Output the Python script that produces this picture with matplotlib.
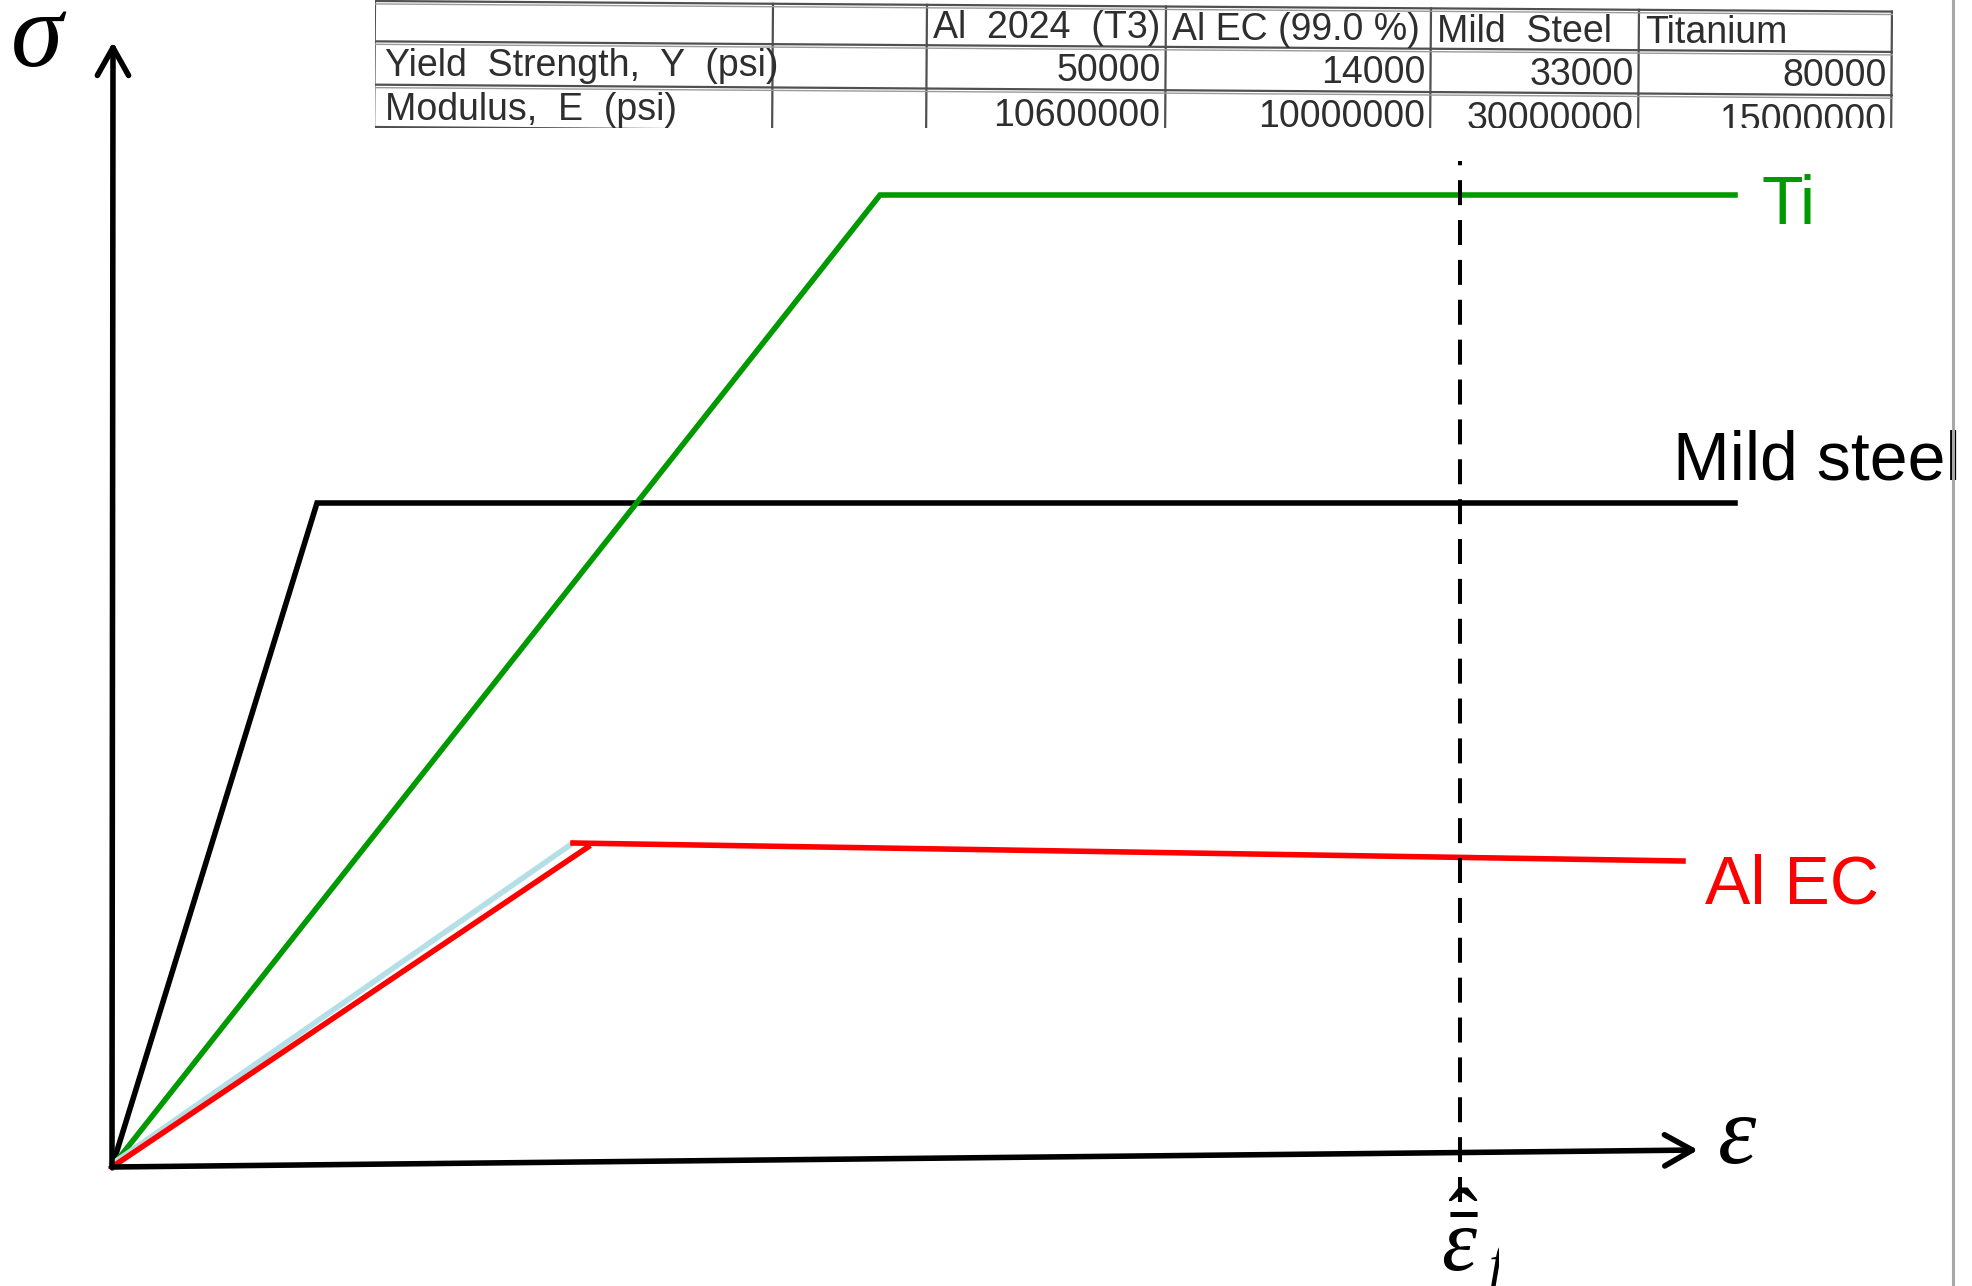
import matplotlib.pyplot as plt
from matplotlib.lines import Line2D
from matplotlib.transforms import Affine2D, Bbox, TransformedBbox

plt.rcParams['mathtext.fontset'] = 'custom'
plt.rcParams['mathtext.it'] = 'Liberation Serif:italic'
plt.rcParams['mathtext.rm'] = 'Liberation Serif'
plt.rcParams['mathtext.bf'] = 'Liberation Serif:bold'

# schematic stress-strain curves (arbitrary units)
ti_strain = [0.0, 7.68, 16.23]
ti_stress = [0.0, 9.72, 9.72]
steel_strain = [0.0, 2.05, 16.23]
steel_stress = [0.0, 6.64, 6.64]
alec_rise_strain = [0.0, 4.76]
alec_rise_stress = [0.0, 3.20]
alec_flat_strain = [4.61, 15.71]
alec_flat_stress = [3.24, 3.06]
alec_guide_strain = [0.0, 4.61]
alec_guide_stress = [0.03, 3.24]
eps_hat = 13.48

# material property table
materials = ["Al  2024  (T3)", "Al EC (99.0 %)", "Mild  Steel", "Titanium"]
row_labels = ["Yield  Strength,  Y  (psi)", "Modulus,  E  (psi)"]
yield_psi = [50000, 14000, 33000, 80000]
modulus_psi = [10600000, 10000000, 30000000, 15000000]

GREEN = '#009a00'
RED = '#ff0000'
LW = 4.0

fig = plt.figure(figsize=(19.72, 12.86), dpi=100)
ax = fig.add_axes([0, 0, 1, 1])
ax.set_xlim(-1.12, 18.60)
ax.set_ylim(-1.19, 11.67)
ax.axis('off')

# axes arrows
arrow = dict(arrowstyle='->,head_length=0.8,head_width=0.45', lw=LW,
             color='black', mutation_scale=25, shrinkA=0, shrinkB=0)
ax.annotate('', xy=(15.86, 0.17), xytext=(0, 0), arrowprops=arrow)
ax.annotate('', xy=(0.01, 11.25), xytext=(0, 0), arrowprops=arrow)

# curves
ax.plot(steel_strain, steel_stress, color='black', lw=LW, solid_joinstyle='miter')
ax.plot(ti_strain, ti_stress, color=GREEN, lw=LW, solid_joinstyle='miter')
ax.plot(alec_guide_strain, alec_guide_stress, color='#b4dfe6', lw=LW)
ax.plot(alec_rise_strain, alec_rise_stress, color=RED, lw=LW)
ax.plot(alec_flat_strain, alec_flat_stress, color=RED, lw=LW)

# fracture strain marker
ax.plot([eps_hat, eps_hat], [-0.35, 10.06], color='black', lw=2.9,
        dashes=(6.2, 3.7))

# curve labels
ax.text(16.50, 9.43, 'Ti', color=GREEN, fontsize=49,
        family='Liberation Sans', va='baseline')
ax.text(15.61, 6.87, 'Mild steel', color='black', fontsize=49,
        family='Liberation Sans', va='baseline')
ax.text(15.93, 2.63, 'Al EC', color=RED, fontsize=49,
        family='Liberation Sans', va='baseline')

# axis symbols
ax.text(-1.02, 11.01, r'$\sigma$', fontsize=76, va='baseline')
ax.text(16.05, 0.04, r'$\varepsilon$', fontsize=70, va='baseline')
ax.text(13.29, -1.04, r'$\hat{\bar{\varepsilon}}$', fontsize=64, va='baseline')
sub = ax.text(13.76, -1.16, r'$f$', fontsize=40, va='baseline', clip_on=True)
sub.set_clip_box(TransformedBbox(Bbox([[13.0, -2.0], [13.87, 0.0]]), ax.transData))
sub.set_clip_path(None)

# right-hand frame edge
fig.add_artist(Line2D([0.9904, 0.9904], [0, 1], color='#a8a8a8', lw=2.2))

# property table across the top
tx0, tw, th = 375, 1518, 128
axt = fig.add_axes([tx0 / 1972, 1 - th / 1286, tw / 1972, th / 1286])
axt.set_xlim(0, tw)
axt.set_ylim(th, -2)
axt.axis('off')
fig.canvas.draw()
cx, cy = axt.transData.transform((0, 0))
tilt = axt.transData + Affine2D().rotate_deg_around(cx, cy, -0.4)

col_edges = [0, 398, 552, 791, 1056, 1264, 1517]
row_edges = [-1, 40, 84, 127]
line_kw = dict(color='#505050', lw=1.6, transform=tilt)
for xe in col_edges:
    axt.plot([xe, xe], [row_edges[0], 134], **line_kw)
for ye in row_edges:
    axt.plot([0, tw], [ye, ye], **line_kw)
    axt.plot([0, tw], [ye + 3, ye + 3], color='#9a9a9a', lw=1.0, transform=tilt)

txt_kw = dict(fontsize=27, family='Liberation Sans', color='#2e2e2e',
              va='baseline', transform=tilt, clip_on=True)
for i, name in enumerate(materials):
    axt.text(col_edges[i + 2] + 6, 33, name, ha='left', **txt_kw)
for r, (label, vals) in enumerate(zip(row_labels, [yield_psi, modulus_psi])):
    base = [75, 120][r]
    axt.text(11, base, label, ha='left', **txt_kw)
    for i, v in enumerate(vals):
        axt.text(col_edges[i + 3] - 5, base, str(v), ha='right', **txt_kw)

fig.savefig('out.png', dpi=100, facecolor='white')
